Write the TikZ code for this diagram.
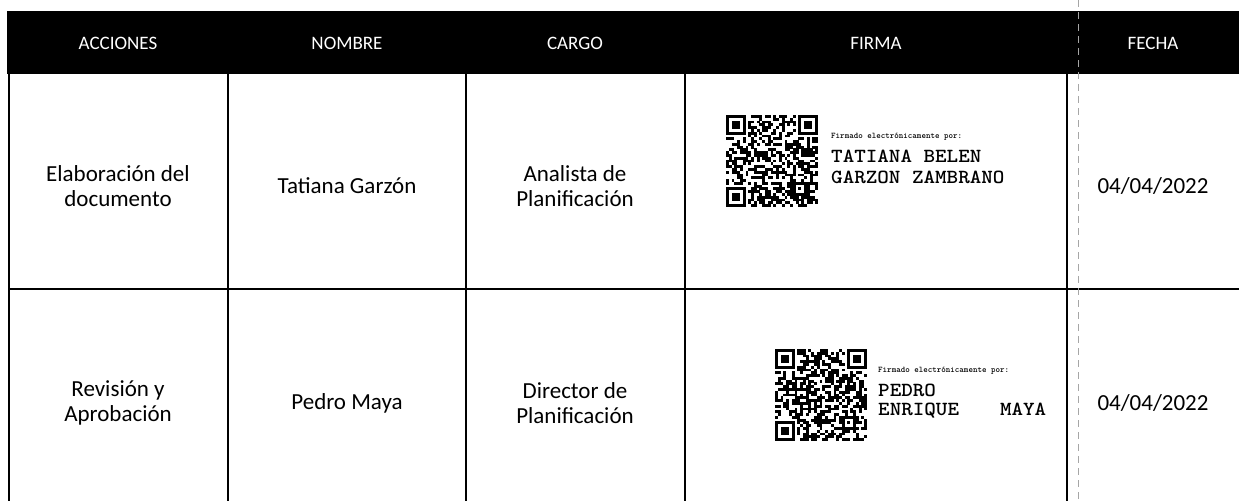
\documentclass[tikz,border=0pt]{standalone}
\usepackage{fontspec}
\usepackage{graphicx}
\setmainfont{Carlito}
\tikzset{
  gridline/.style={line width=1.5pt, black},
  hdrtext/.style={text=white, font=\fontsize{19}{22}\selectfont, inner sep=0pt},
  celltext/.style={font=\fontsize{23}{25.5}\selectfont, align=center, inner sep=0pt},
  sigsmall/.style={font=\fontsize{8.6}{9}\selectfont\ttfamily\bfseries, anchor=west, inner sep=0pt},
  signame/.style={font=\fontsize{20}{21}\selectfont\ttfamily\bfseries, anchor=west, inner sep=0pt},
}
\newcommand{\qrpattern}[4]{%
  \begin{scope}[shift={(#2,#3)}]
    \node[minimum size=92pt, inner sep=0pt, anchor=north west] (#1) at (0,0) {};
    \pgfmathsetseed{#4}
    \foreach \i in {0,...,32}{\foreach \j in {0,...,32}{
      \pgfmathtruncatemacro\qrskip{((\i<8)&&(\j<8))||((\i>24)&&(\j<8))||((\i<8)&&(\j>24))||((\i>23)&&(\i<29)&&(\j>23)&&(\j<29))}
      \pgfmathtruncatemacro\qron{rnd<0.55}
      \ifnum\qrskip=0 \ifnum\qron=1 \fill (\i*2.788,\j*2.788) rectangle ++(2.85,2.85);\fi\fi
    }}
    \foreach \fx/\fy in {0/0,26/0,0/26}{
      \fill (\fx*2.788,\fy*2.788) rectangle ++(19.52,19.52);
      \fill[white] (\fx*2.788+2.788,\fy*2.788+2.788) rectangle ++(13.94,13.94);
      \fill (\fx*2.788+5.576,\fy*2.788+5.576) rectangle ++(8.36,8.36);
    }
    \fill (24*2.788,24*2.788) rectangle ++(13.94,13.94);
    \fill[white] (25*2.788,25*2.788) rectangle ++(8.36,8.36);
    \fill (26*2.788,26*2.788) rectangle ++(2.79,2.79);
  \end{scope}}
\begin{document}
\begin{tikzpicture}[x=1pt,y=-1pt]
  \useasboundingbox (0,0) rectangle (1239,501);
  \fill[white] (0,0) rectangle (1239,501);
  % header bar
  \fill[black] (7,11) rectangle (1239,74);
  % coordinates for grid
  \coordinate (c0t) at (9,74);    \coordinate (c0b) at (9,501);
  \coordinate (c1t) at (228,74);  \coordinate (c1b) at (228,501);
  \coordinate (c2t) at (466,74);  \coordinate (c2b) at (466,501);
  \coordinate (c3t) at (685,74);  \coordinate (c3b) at (685,501);
  \coordinate (c4t) at (1067,74); \coordinate (c4b) at (1067,501);
  \coordinate (rl) at (9,289);    \coordinate (rr) at (1239,289);
  \coordinate (dt) at (1078,0);   \coordinate (db) at (1078,501);
  \draw[gridline] (c0t) -- (c0b);
  \draw[gridline] (c1t) -- (c1b);
  \draw[gridline] (c2t) -- (c2b);
  \draw[gridline] (c3t) -- (c3b);
  \draw[gridline] (c4t) -- (c4b);
  \draw[gridline] (rl) -- (rr);
  \draw[gray!70, line width=0.8pt, dash pattern=on 7pt off 5pt] (dt) -- (db);
  % header texts
  \node[hdrtext] (hacc) at (118,43) {ACCIONES};
  \node[hdrtext] (hnom) at (347,43) {NOMBRE};
  \node[hdrtext] (hcar) at (575,43) {CARGO};
  \node[hdrtext] (hfir) at (876,43) {FIRMA};
  \node[hdrtext] (hfec) at (1153,43) {FECHA};
  % row 1
  \node[celltext] (a1) at (118,186) {Elaboración del\\documento};
  \node[celltext] (n1) at (347,186) {Tatiana Garzón};
  \node[celltext] (g1) at (575,186) {Analista de\\Planificación};
  \node[celltext] (d1) at (1153,186) {04/04/2022};
  % row 2
  \node[celltext] (a2) at (118,403) {Revisión y\\Aprobación};
  \node[celltext] (n2) at (347,403) {Pedro Maya};
  \node[celltext] (g2) at (575,403) {Director de\\Planificación};
  \node[celltext] (d2) at (1153,403) {04/04/2022};
  % signatures
  \qrpattern{qr1}{726}{115}{4711}
  \node[sigsmall] (f1) at (831,137) {Firmado electrónicamente por:};
  \node[signame] (s1a) at (831,156) {\scalebox{1.1}[1]{TATIANA BELEN}};
  \node[signame] (s1b) at (831,177) {\scalebox{1.1}[1]{GARZON ZAMBRANO}};
  \qrpattern{qr2}{775}{349}{9137}
  \node[sigsmall] (f2) at (878,371) {Firmado electrónicamente por:};
  \node[signame] (s2a) at (878,390) {\scalebox{1.1}[1]{PEDRO}};
  \node[signame] (s2b) at (878,411) {\makebox[168pt][l]{\scalebox{1.1}[1]{ENRIQUE}\hfill\scalebox{1.1}[1]{MAYA}}};
\end{tikzpicture}
\end{document}
